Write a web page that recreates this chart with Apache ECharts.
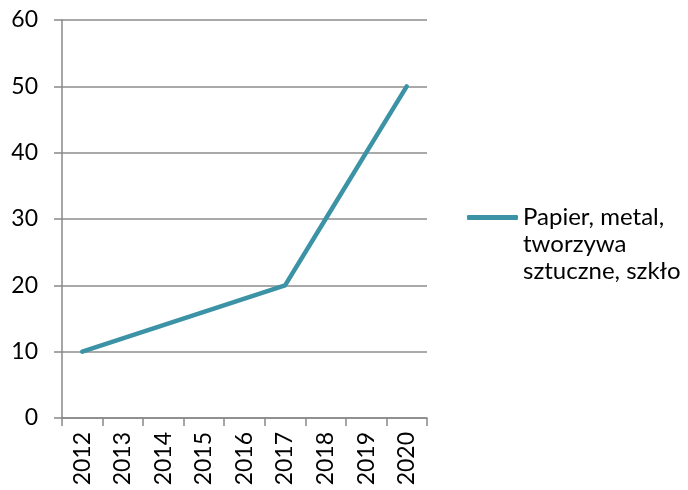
<!DOCTYPE html>
<html><head><meta charset="utf-8">
<script src="https://cdn.jsdelivr.net/npm/echarts@6/dist/echarts.min.js"></script>
<style>html,body{margin:0;padding:0;background:#fff}#c{width:688px;height:490px}</style>
</head><body><div id="c"></div>
<script>
const categories = ['2012','2013','2014','2015','2016','2017','2018','2019','2020'];
const seriesName = 'Papier, metal,\ntworzywa\nsztuczne, szkło';
const values = [10, 12, 14, 16, 18, 20, 30, 40, 50];
const yTicks = {min: 0, max: 60, interval: 10};

const chart = echarts.init(document.getElementById('c'));
const font = 'Lato, "DejaVu Sans", sans-serif';
chart.setOption({
  animation: false,
  grid: {left: 62, right: 261, top: 20, bottom: 72, containLabel: false},
  xAxis: {
    type: 'category', data: categories, boundaryGap: true,
    axisLine: {lineStyle: {color: '#888', width: 1.5}},
    axisTick: {show: true, length: 8, lineStyle: {color: '#888', width: 1.5}},
    axisLabel: {rotate: 90, fontSize: 23, color: '#000', fontFamily: font, margin: 14}
  },
  yAxis: {
    type: 'value', min: yTicks.min, max: yTicks.max, interval: yTicks.interval,
    axisLine: {show: true, lineStyle: {color: '#888', width: 1.5}},
    axisTick: {show: true, length: 8, lineStyle: {color: '#888', width: 1.5}},
    splitLine: {show: true, lineStyle: {color: '#8c8c8c', width: 1.5}},
    axisLabel: {fontSize: 23, color: '#000', fontFamily: font, margin: 24}
  },
  legend: {
    left: 467, top: 150, orient: 'vertical', padding: 0,
    icon: 'roundRect', itemWidth: 51, itemHeight: 5,
    formatter: name => '\n\n' + name,
    textStyle: {fontSize: 24, color: '#000', fontFamily: font, lineHeight: 27},
    data: [seriesName]
  },
  series: [{
    name: seriesName, type: 'line', data: values,
    showSymbol: false, symbol: 'none',
    lineStyle: {color: '#3c93a6', width: 4.5, cap: 'round', join: 'round'},
    itemStyle: {color: '#3c93a6'}
  }]
});
</script></body></html>
